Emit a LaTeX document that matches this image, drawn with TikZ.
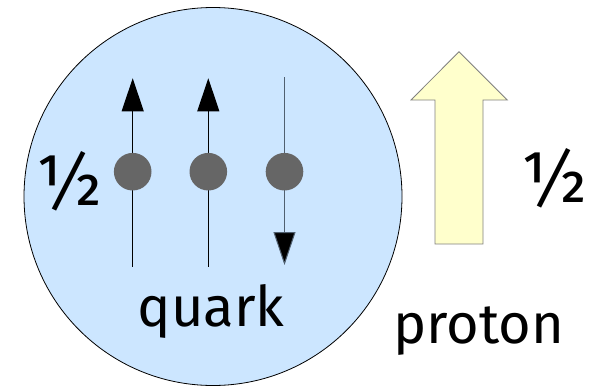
\documentclass[tikz,border=0pt]{standalone}
\usepackage{fontspec}
\setmainfont{Fira Sans}
\usetikzlibrary{arrows.meta}
\definecolor{bgblue}{RGB}{204,230,255}
\definecolor{paleyellow}{RGB}{255,255,204}
\definecolor{dotgray}{RGB}{102,102,102}
\definecolor{downline}{RGB}{80,96,112}
\begin{document}
\begin{tikzpicture}[x=1pt,y=-1pt,
  spinline/.style={line width=1pt},
  spintip/.style={-{Triangle[width=22pt,length=33pt,fill=black]}},
  quarkdot/.style={circle,fill=dotgray,minimum size=37.6pt,inner sep=0pt},
  lbl/.style={anchor=base,inner sep=0pt,font=\fontsize{56}{60}\selectfont},
  half/.style={anchor=base,inner sep=0pt,font=\fontsize{72}{76}\selectfont}]
\useasboundingbox (0,0) rectangle (594,386);
\node[circle,draw=black,line width=0.8pt,fill=bgblue,minimum size=378pt,inner sep=0pt] (proton) at (213,196.5) {};
% quark lines
\coordinate (a1) at (132.7,78.3);
\coordinate (a0) at (132.7,266.7);
\coordinate (b1) at (208.3,78.3);
\coordinate (b0) at (208.3,266.7);
\coordinate (c1) at (284.5,77.3);
\coordinate (c0) at (284.5,265);
\draw[spinline,spintip] (a0) -- (a1);
\draw[spinline,spintip] (b0) -- (b1);
\draw[spinline,draw=downline,spintip] (c1) -- (c0);
\node[quarkdot] (q1) at (132.7,171.7) {};
\node[quarkdot] (q2) at (208.3,171.7) {};
\node[quarkdot] (q3) at (284.5,171.7) {};
% big arrow
\draw[draw=gray,line width=0.8pt,fill=paleyellow]
  (459,51.7) -- (507.3,100) -- (483,100) -- (483,244) -- (435,244) -- (435,100) -- (411,100) -- cycle;
\node[half] (hl) at (69,205) {½};
\node[half] (hr) at (554,202) {½};
\node[lbl] (ql) at (211,326.7) {quark};
\node[lbl] (pl) at (479,343.3) {proton};
\end{tikzpicture}
\end{document}
